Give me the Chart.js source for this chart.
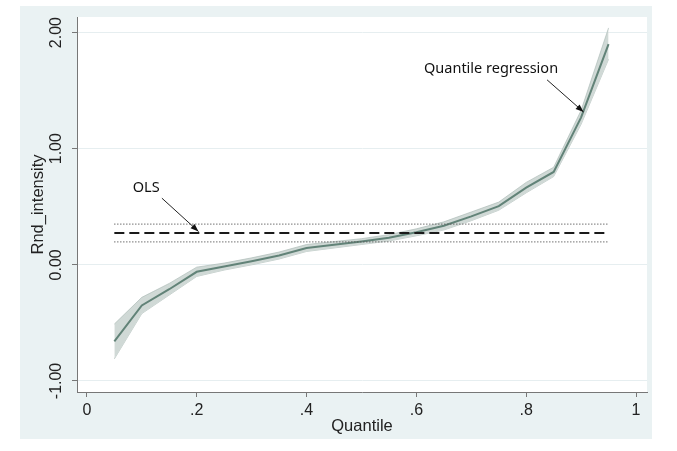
<!DOCTYPE html>
<html>
<head>
<meta charset="utf-8">
<script src="https://cdn.jsdelivr.net/npm/chart.js@4.4.1/dist/chart.umd.min.js"></script>
<style>
  html, body { margin: 0; padding: 0; background: #ffffff; }
  #frame { position: absolute; left: 20px; top: 6px; width: 632px; height: 433px; background: #eaf2f3; }
  canvas { display: block; }
</style>
</head>
<body>
<div id="frame"><canvas id="c" width="632" height="433"></canvas></div>
<script>
// ---- data ----
const quantiles = [0.05, 0.10, 0.15, 0.20, 0.25, 0.30, 0.35, 0.40, 0.45, 0.50,
                   0.55, 0.60, 0.65, 0.70, 0.75, 0.80, 0.85, 0.90, 0.95];
const qrCoef  = [-0.66, -0.35, -0.21, -0.06, -0.015, 0.03, 0.08, 0.145, 0.172, 0.20,
                 0.233, 0.28, 0.336, 0.417, 0.505, 0.665, 0.80, 1.27, 1.90];
const qrLower = [-0.81, -0.42, -0.26, -0.10, -0.045, 0.00, 0.05, 0.115, 0.145, 0.175,
                 0.205, 0.25, 0.30, 0.38, 0.47, 0.62, 0.76, 1.21, 1.77];
const qrUpper = [-0.51, -0.28, -0.16, -0.02, 0.015, 0.06, 0.11, 0.175, 0.20, 0.225,
                 0.26, 0.31, 0.37, 0.455, 0.54, 0.71, 0.84, 1.33, 2.04];
const olsRange = [0.05, 0.95];
const olsCoef  = 0.275;
const olsLower = 0.198;
const olsUpper = 0.35;
const xTicks = [0, 0.2, 0.4, 0.6, 0.8, 1];
const xTickLabels = ['0', '.2', '.4', '.6', '.8', '1'];
const yTicks = [-1, 0, 1, 2];
const yTickLabels = ['-1.00', '0.00', '1.00', '2.00'];
const xTitle = 'Quantile';
const yTitle = 'Rnd_intensity';
const notes = [
  { text: 'OLS', label: [0.108, 0.659], from: [0.1366, 0.574], to: [0.2033, 0.287] },
  { text: 'Quantile regression', label: [0.736, 1.688], from: [0.838, 1.593], to: [0.9045, 1.316] }
];

const pts = (xs, ys) => xs.map((x, i) => ({ x: x, y: ys[i] }));
const flat = (v) => olsRange.map(x => ({ x: x, y: v }));

const plotBg = {
  id: 'plotBg',
  beforeDraw(chart) {
    const a = chart.chartArea, ctx = chart.ctx;
    ctx.save(); ctx.fillStyle = '#ffffff';
    ctx.fillRect(a.left, a.top, a.right - a.left, a.bottom - a.top);
    ctx.restore();
  }
};

const arrows = {
  id: 'arrows',
  afterDatasetsDraw(chart) {
    const ctx = chart.ctx, xs = chart.scales.x, ys = chart.scales.y;
    ctx.save();
    notes.forEach(n => {
      const lx = xs.getPixelForValue(n.label[0]), ly = ys.getPixelForValue(n.label[1]);
      ctx.font = '14.5px "Noto Sans"';
      ctx.fillStyle = '#111';
      ctx.textAlign = 'center'; ctx.textBaseline = 'middle';
      ctx.fillText(n.text, lx, ly);
      const x1 = xs.getPixelForValue(n.from[0]), y1 = ys.getPixelForValue(n.from[1]);
      const x2 = xs.getPixelForValue(n.to[0]), y2 = ys.getPixelForValue(n.to[1]);
      ctx.strokeStyle = '#222'; ctx.lineWidth = 1;
      ctx.beginPath(); ctx.moveTo(x1, y1); ctx.lineTo(x2, y2); ctx.stroke();
      const ang = Math.atan2(y2 - y1, x2 - x1), L = 8, W = 3;
      ctx.beginPath();
      ctx.moveTo(x2, y2);
      ctx.lineTo(x2 - L * Math.cos(ang) + W * Math.sin(ang), y2 - L * Math.sin(ang) - W * Math.cos(ang));
      ctx.lineTo(x2 - L * Math.cos(ang) - W * Math.sin(ang), y2 - L * Math.sin(ang) + W * Math.cos(ang));
      ctx.closePath(); ctx.fillStyle = '#111'; ctx.fill();
    });
    ctx.restore();
  }
};

new Chart(document.getElementById('c'), {
  type: 'scatter',
  data: {
    datasets: [
      { data: flat(olsCoef), showLine: true, borderColor: '#1a1a1a', borderWidth: 2, borderDash: [10, 5], pointRadius: 0, order: 0 },
      { data: flat(olsUpper), showLine: true, borderColor: '#555', borderWidth: 1.2, borderDash: [1, 2], pointRadius: 0, order: 0 },
      { data: flat(olsLower), showLine: true, borderColor: '#555', borderWidth: 1.2, borderDash: [1, 2], pointRadius: 0, order: 0 },
      { data: pts(quantiles, qrCoef), showLine: true, borderColor: '#628378', borderWidth: 2, pointRadius: 0, order: 1 },
      { data: pts(quantiles, qrUpper), showLine: true, borderColor: 'rgba(175,190,185,0.9)', borderWidth: 0.8, pointRadius: 0, fill: '+1', backgroundColor: '#d0d9d6', order: 2 },
      { data: pts(quantiles, qrLower), showLine: true, borderColor: 'rgba(175,190,185,0.9)', borderWidth: 0.8, pointRadius: 0, order: 2 }
    ]
  },
  options: {
    responsive: false,
    devicePixelRatio: 1,
    animation: false,
    layout: { padding: { top: 11, right: 5, left: 0, bottom: 0 } },
    plugins: { legend: { display: false }, tooltip: { enabled: false } },
    scales: {
      x: {
        type: 'linear', min: -0.018, max: 1.02,
        afterBuildTicks: s => { s.ticks = xTicks.map(v => ({ value: v })); },
        afterFit: s => { s.height = 47; },
        ticks: {
          callback: (v) => xTickLabels[xTicks.indexOf(v)],
          font: { family: '"Liberation Sans", Arial', size: 16 }, color: '#222',
          padding: 4, maxRotation: 0, minRotation: 0
        },
        grid: { drawOnChartArea: false, tickLength: 5, tickColor: '#777' },
        border: { display: true, color: '#777', width: 1 },
        title: { display: true, text: xTitle, font: { family: '"Liberation Sans", Arial', size: 16.5 }, color: '#222', padding: { top: 0, bottom: 3 } }
      },
      y: {
        type: 'linear', min: -1.095, max: 2.134,
        afterBuildTicks: s => { s.ticks = yTicks.map(v => ({ value: v })); },
        afterFit: s => { s.width = 57; },
        ticks: {
          callback: (v) => yTickLabels[yTicks.indexOf(v)],
          font: { family: '"Liberation Sans", Arial', size: 16 }, color: '#222',
          padding: -3, minRotation: 90, maxRotation: 90, crossAlign: 'center'
        },
        grid: { color: '#e6eef0', lineWidth: 1, tickLength: 5, tickColor: '#777' },
        border: { display: true, color: '#777', width: 1 },
        title: { display: true, text: yTitle, font: { family: '"Liberation Sans", Arial', size: 16.5 }, color: '#222', padding: { top: 9, bottom: 0 } }
      }
    }
  },
  plugins: [plotBg, arrows]
});
</script>
</body>
</html>
